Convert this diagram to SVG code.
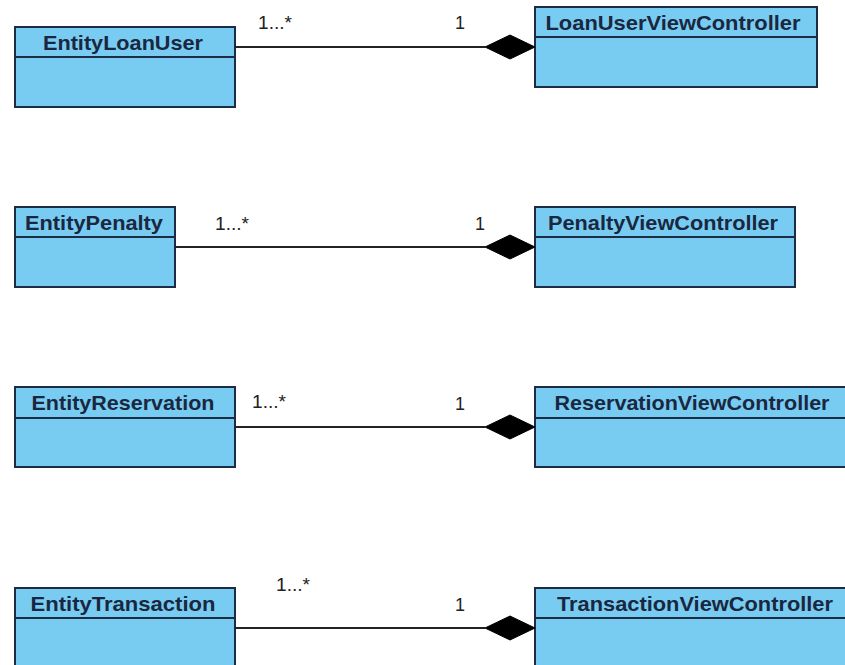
<svg xmlns="http://www.w3.org/2000/svg" width="845" height="665" viewBox="0 0 845 665">
  <style>
    .box { fill: #79CCF1; stroke: #1C2C45; stroke-width: 2; }
    .div { stroke: #1C2C45; stroke-width: 2; }
    .name { font-family: "Liberation Sans", Arial, sans-serif; font-weight: bold; font-size: 21px; fill: #1A2740; text-anchor: middle; }
    .assoc { stroke: #222; stroke-width: 2; fill: none; }
    .diamond { fill: #000; stroke: #000; stroke-width: 1; }
    .mult { font-family: "Liberation Sans", Arial, sans-serif; font-size: 18px; fill: #222; }
  </style>

  <rect width="845" height="665" fill="#ffffff"/>

  <!-- classes -->
  <g id="EntityLoanUser">
    <rect class="box" x="15" y="27" width="220" height="80"/>
    <line class="div" x1="15" y1="57" x2="235" y2="57"/>
    <text class="name" x="123" y="50" textLength="160" lengthAdjust="spacingAndGlyphs">EntityLoanUser</text>
  </g>
  <g id="LoanUserViewController">
    <rect class="box" x="535" y="7" width="282" height="80"/>
    <line class="div" x1="535" y1="37" x2="817" y2="37"/>
    <text class="name" x="673" y="30" textLength="255" lengthAdjust="spacingAndGlyphs">LoanUserViewController</text>
  </g>

  <g id="EntityPenalty">
    <rect class="box" x="15" y="207" width="160" height="80"/>
    <line class="div" x1="15" y1="237" x2="175" y2="237"/>
    <text class="name" x="94" y="230" textLength="138" lengthAdjust="spacingAndGlyphs">EntityPenalty</text>
  </g>
  <g id="PenaltyViewController">
    <rect class="box" x="535" y="207" width="260" height="80"/>
    <line class="div" x1="535" y1="237" x2="795" y2="237"/>
    <text class="name" x="663" y="230" textLength="230" lengthAdjust="spacingAndGlyphs">PenaltyViewController</text>
  </g>

  <g id="EntityReservation">
    <rect class="box" x="15" y="387" width="220" height="80"/>
    <line class="div" x1="15" y1="418" x2="235" y2="418"/>
    <text class="name" x="123" y="410" textLength="183" lengthAdjust="spacingAndGlyphs">EntityReservation</text>
  </g>
  <g id="ReservationViewController">
    <rect class="box" x="535" y="387" width="315" height="80"/>
    <line class="div" x1="535" y1="418" x2="850" y2="418"/>
    <text class="name" x="692" y="410" textLength="275" lengthAdjust="spacingAndGlyphs">ReservationViewController</text>
  </g>

  <g id="EntityTransaction">
    <rect class="box" x="15" y="588" width="220" height="80"/>
    <line class="div" x1="15" y1="618" x2="235" y2="618"/>
    <text class="name" x="123" y="611" textLength="185" lengthAdjust="spacingAndGlyphs">EntityTransaction</text>
  </g>
  <g id="TransactionViewController">
    <rect class="box" x="535" y="588" width="315" height="80"/>
    <line class="div" x1="535" y1="618" x2="850" y2="618"/>
    <text class="name" x="695" y="611" textLength="276" lengthAdjust="spacingAndGlyphs">TransactionViewController</text>
  </g>

  <!-- composition associations -->
  <g id="connectors">
    <line class="assoc" x1="235" y1="47" x2="485" y2="47"/>
    <polygon class="diamond" points="485,47 510,35 535,47 510,59"/>
    <text class="mult" x="258" y="29" textLength="34" lengthAdjust="spacingAndGlyphs">1...*</text>
    <text class="mult" x="455" y="29">1</text>

    <line class="assoc" x1="175" y1="247" x2="485" y2="247"/>
    <polygon class="diamond" points="485,247 510,235 535,247 510,259"/>
    <text class="mult" x="215" y="230" textLength="34" lengthAdjust="spacingAndGlyphs">1...*</text>
    <text class="mult" x="475" y="230">1</text>

    <line class="assoc" x1="235" y1="427" x2="485" y2="427"/>
    <polygon class="diamond" points="485,427 510,415 535,427 510,439"/>
    <text class="mult" x="252" y="408" textLength="34" lengthAdjust="spacingAndGlyphs">1...*</text>
    <text class="mult" x="455" y="410">1</text>

    <line class="assoc" x1="235" y1="628" x2="485" y2="628"/>
    <polygon class="diamond" points="485,628 510,616 535,628 510,640"/>
    <text class="mult" x="276" y="591" textLength="34" lengthAdjust="spacingAndGlyphs">1...*</text>
    <text class="mult" x="455" y="611">1</text>
  </g>
</svg>
